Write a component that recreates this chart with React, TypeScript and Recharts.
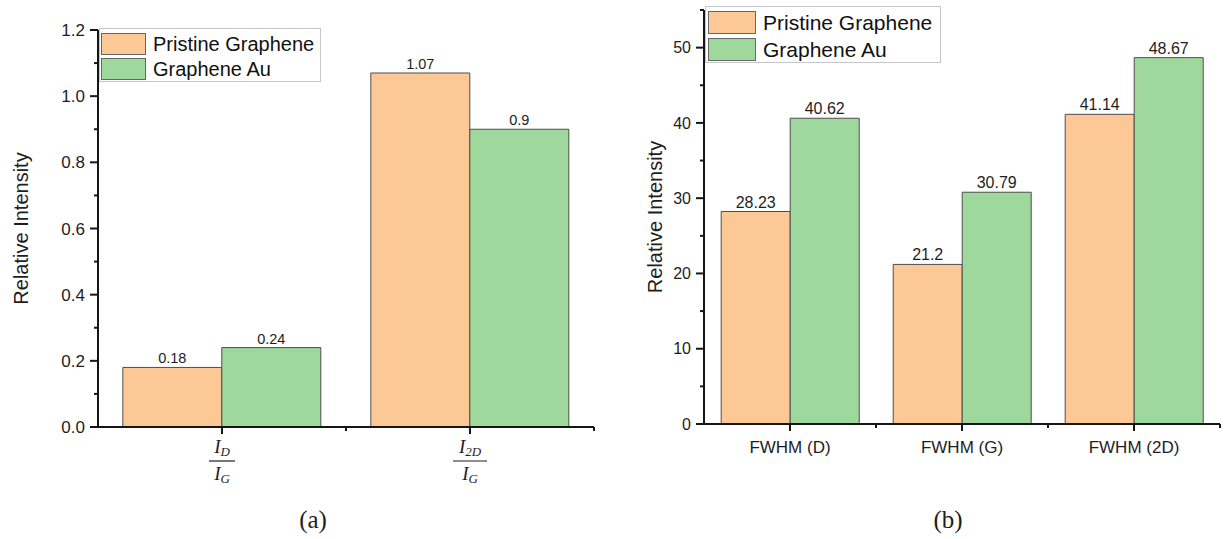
import React from 'react';
import { BarChart, Bar, XAxis, YAxis, Legend, LabelList } from 'recharts';

// ---- data ----
const seriesNames = ['Pristine Graphene', 'Graphene Au'];
const seriesColors = ['#FCC896', '#9ED89C'];

const aCategories = ['ID/IG', 'I2D/IG'];
const aNumSubs = ['D', '2D'];
const aDenSubs = ['G', 'G'];
const aPristine = [0.18, 1.07];
const aAu = [0.24, 0.9];
const aYTicks = [0, 0.1, 0.2, 0.3, 0.4, 0.5, 0.6, 0.7, 0.8, 0.9, 1.0, 1.1, 1.2];
const aYLabels = ['0.0', '', '0.2', '', '0.4', '', '0.6', '', '0.8', '', '1.0', '', '1.2'];

const bCategories = ['FWHM (D)', 'FWHM (G)', 'FWHM (2D)'];
const bPristine = [28.23, 21.2, 41.14];
const bAu = [40.62, 30.79, 48.67];
const bYTicks = [0, 5, 10, 15, 20, 25, 30, 35, 40, 45, 50, 55];
const bYLabels = ['0', '', '10', '', '20', '', '30', '', '40', '', '50', ''];

const yTitle = 'Relative Intensity';
const captions = ['(a)', '(b)'];

const aData = aCategories.map((c, i) => ({ name: c, p: aPristine[i], g: aAu[i] }));
const bData = bCategories.map((c, i) => ({ name: c, p: bPristine[i], g: bAu[i] }));

const SANS = '"Liberation Sans", Arial, sans-serif';
const SERIF = '"Liberation Serif", "Times New Roman", serif';
const AXIS = '#161616';
const TEXT = '#1e1e1e';
const AW = 2;

// layout
const A_W = 620, A_H = 539, A_YW = 98, A_MR = 26, A_MT = 30, A_XH = 60, A_MB = 52;
const B_LEFT = 620, B_W = 604, B_H = 539, B_YW = 84, B_MR = 4, B_MT = 10, B_XH = 40, B_MB = 75;
const aHalfBand = (A_W - A_YW - A_MR) / aCategories.length / 2;
const bHalfBand = (B_W - B_YW - B_MR) / bCategories.length / 2;

const makeYTick = (labels: string[], fs: number) => (props: any) => {
  const { x, y, index } = props;
  const major = labels[index] !== '';
  return (
    <g>
      <line x1={x - (major ? 8 : 4)} x2={x} y1={y} y2={y} stroke={AXIS} strokeWidth={AW} />
      {major && (
        <text x={x - 13} y={y} dy="0.36em" textAnchor="end" fontFamily={SANS} fontSize={fs} fill={TEXT}>
          {labels[index]}
        </text>
      )}
    </g>
  );
};

const AXTick = (props: any) => {
  const { x, y, index } = props;
  const lw = aNumSubs[index].length > 1 ? 17 : 13;
  return (
    <g>
      <line x1={x} x2={x} y1={y} y2={y + 7} stroke={AXIS} strokeWidth={AW} />
      <line x1={x + aHalfBand} x2={x + aHalfBand} y1={y} y2={y + 4} stroke={AXIS} strokeWidth={AW} />
      <text x={x} y={y + 26} textAnchor="middle" fontFamily={SERIF} fontStyle="italic" fontSize={19} fill={TEXT}>
        <tspan>I</tspan>
        <tspan fontSize={13} dy={3}>{aNumSubs[index]}</tspan>
      </text>
      <line x1={x - lw} x2={x + lw} y1={y + 34} y2={y + 34} stroke={TEXT} strokeWidth={1.2} />
      <text x={x} y={y + 53} textAnchor="middle" fontFamily={SERIF} fontStyle="italic" fontSize={19} fill={TEXT}>
        <tspan>I</tspan>
        <tspan fontSize={13} dy={3}>{aDenSubs[index]}</tspan>
      </text>
    </g>
  );
};

const BXTick = (props: any) => {
  const { x, y, payload } = props;
  return (
    <g>
      <line x1={x} x2={x} y1={y} y2={y + 7} stroke={AXIS} strokeWidth={AW} />
      <line x1={x + bHalfBand} x2={x + bHalfBand} y1={y} y2={y + 4} stroke={AXIS} strokeWidth={AW} />
      <text x={x} y={y + 29} textAnchor="middle" fontFamily={SANS} fontSize={17} fill={TEXT}>
        {payload.value}
      </text>
    </g>
  );
};

const makeLegend = (o: { sw: number; sh: number; fs: number; row: number; padT: number; padL: number; padR: number }) =>
  (props: any) => {
    const payload = [...(props.payload || [])].sort(
      (a: any, b: any) => seriesNames.indexOf(a.value) - seriesNames.indexOf(b.value)
    );
    return (
      <div
        style={{
          border: '1.5px solid #c6c6c6',
          background: '#fff',
          padding: `${o.padT}px ${o.padR}px 0 ${o.padL}px`,
          boxSizing: 'border-box',
          fontFamily: SANS,
          fontSize: o.fs,
          color: '#111',
          lineHeight: 1,
          width: '100%',
          height: '100%',
        }}
      >
        {payload.map((p: any, i: number) => (
          <div key={i} style={{ display: 'flex', alignItems: 'center', height: o.row }}>
            <span
              style={{
                display: 'inline-block',
                width: o.sw,
                height: o.sh,
                background: p.color,
                border: '1.3px solid #666',
                boxSizing: 'border-box',
              }}
            />
            <span style={{ marginLeft: 7, whiteSpace: 'nowrap' }}>{p.value}</span>
          </div>
        ))}
      </div>
    );
  };

const yLabel = (bx: number) => (props: any) => {
  const vb = props.viewBox;
  const cy = vb.y + vb.height / 2;
  return (
    <text
      x={bx}
      y={cy}
      transform={`rotate(-90, ${bx}, ${cy})`}
      textAnchor="middle"
      fontFamily={SANS}
      fontSize={20}
      fill={TEXT}
    >
      {yTitle}
    </text>
  );
};

const barStroke = '#4d4d4d';
const axisLineStyle = { stroke: AXIS, strokeWidth: AW };

export default function App() {
  return (
    <div style={{ position: 'absolute', left: 0, top: 0, width: 1224, height: 539, background: '#fff' }}>
      <svg width={1224} height={539} style={{ position: 'absolute', left: 0, top: 0 }}>
        <text x={313} y={528} textAnchor="middle" fontFamily={SERIF} fontSize={25} fill={TEXT}>
          {captions[0]}
        </text>
        <text x={948} y={528} textAnchor="middle" fontFamily={SERIF} fontSize={25} fill={TEXT}>
          {captions[1]}
        </text>
      </svg>

      <div style={{ position: 'absolute', left: 0, top: 0 }}>
        <BarChart
          width={A_W}
          height={A_H}
          data={aData}
          margin={{ top: A_MT, right: A_MR, bottom: A_MB, left: 0 }}
          barCategoryGap="10%"
          barGap={0}
        >
          <XAxis
            dataKey="name"
            height={A_XH}
            tickSize={0}
            tickMargin={0}
            tickLine={false}
            interval={0}
            axisLine={axisLineStyle}
            tick={AXTick}
          />
          <YAxis
            type="number"
            domain={[0, 1.2]}
            ticks={aYTicks}
            interval={0}
            width={A_YW}
            tickSize={0}
            tickMargin={0}
            tickLine={false}
            axisLine={axisLineStyle}
            tick={makeYTick(aYLabels, 17)}
            label={{ content: yLabel(28) } as any}
          />
          <Legend
            layout="vertical"
            verticalAlign="middle"
            align="center"
            wrapperStyle={{ position: 'absolute', left: 99, top: 28, width: 222, height: 54 }}
            content={makeLegend({ sw: 45, sh: 22, fs: 20, row: 25, padT: 2, padL: 1, padR: 2 })}
          />
          <Bar dataKey="p" name={seriesNames[0]} fill={seriesColors[0]} stroke={barStroke} strokeWidth={1} isAnimationActive={false}>
            <LabelList dataKey="p" position="top" offset={4} fontFamily={SANS} fontSize={14.5} fill={TEXT} />
          </Bar>
          <Bar dataKey="g" name={seriesNames[1]} fill={seriesColors[1]} stroke={barStroke} strokeWidth={1} isAnimationActive={false}>
            <LabelList dataKey="g" position="top" offset={4} fontFamily={SANS} fontSize={14.5} fill={TEXT} />
          </Bar>
        </BarChart>
      </div>

      <div style={{ position: 'absolute', left: B_LEFT, top: 0 }}>
        <BarChart
          width={B_W}
          height={B_H}
          data={bData}
          margin={{ top: B_MT, right: B_MR, bottom: B_MB, left: 0 }}
          barCategoryGap="10%"
          barGap={0}
        >
          <XAxis
            dataKey="name"
            height={B_XH}
            tickSize={0}
            tickMargin={0}
            tickLine={false}
            interval={0}
            axisLine={axisLineStyle}
            tick={BXTick}
          />
          <YAxis
            type="number"
            domain={[0, 55]}
            ticks={bYTicks}
            interval={0}
            width={B_YW}
            tickSize={0}
            tickMargin={0}
            tickLine={false}
            axisLine={axisLineStyle}
            tick={makeYTick(bYLabels, 16)}
            label={{ content: yLabel(42) } as any}
          />
          <Legend
            layout="vertical"
            verticalAlign="middle"
            align="center"
            wrapperStyle={{ position: 'absolute', left: 85, top: 6, width: 236, height: 57 }}
            content={makeLegend({ sw: 48, sh: 23, fs: 21, row: 27, padT: 2, padL: 2, padR: 2 })}
          />
          <Bar dataKey="p" name={seriesNames[0]} fill={seriesColors[0]} stroke={barStroke} strokeWidth={1} isAnimationActive={false}>
            <LabelList dataKey="p" position="top" offset={4} fontFamily={SANS} fontSize={16} fill={TEXT} />
          </Bar>
          <Bar dataKey="g" name={seriesNames[1]} fill={seriesColors[1]} stroke={barStroke} strokeWidth={1} isAnimationActive={false}>
            <LabelList dataKey="g" position="top" offset={4} fontFamily={SANS} fontSize={16} fill={TEXT} />
          </Bar>
        </BarChart>
      </div>
    </div>
  );
}
